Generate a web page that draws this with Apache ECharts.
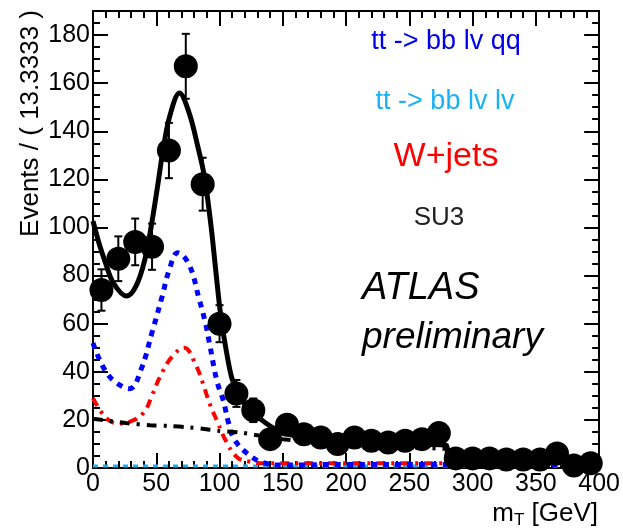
<!DOCTYPE html>
<html>
<head>
<meta charset="utf-8">
<script src="https://cdn.jsdelivr.net/npm/echarts@6/dist/echarts.min.js"></script>
<style>html,body{margin:0;padding:0;background:#fff;}#c{width:623px;height:532px;}</style>
</head>
<body>
<div id="c"></div>
<script>
// ---- data ----
const binCenters = [6.67,20,33.33,46.67,60,73.33,86.67,100,113.33,126.67,140,153.33,166.67,180,193.33,206.67,220,233.33,246.67,260,273.33,286.67,300,313.33,326.67,340,353.33,366.67,380,393.33];
const events = [74,87,94,92,132,167,118,60,31,24,12,18,14,12.7,10,12.7,11.3,10.6,11.3,12,14.5,4,4,4,3.5,3.5,3.5,6,1,2];
const errors = [8.6,9.3,9.7,9.6,11.5,13.5,11,7.7,5.6,4.9,3.5,4.2,3.7,3.6,3.2,3.6,3.4,3.3,3.4,3.5,3.8,2,2,2,1.9,1.9,1.9,2.4,1,1.4];

const totalCurve = [[0,102.6],[5,93],[9.4,86],[16,77],[26.5,71.5],[34,75.6],[41,86.7],[46,100.5],[51,117],[55,131],[60.5,146],[68.4,155.9],[76,147.6],[82.8,133.7],[88,121.3],[93.3,100.5],[97.2,81.2],[101,63.2],[106.3,45.9],[110,36.9],[115.5,30],[123.4,24.5],[132.6,20.3],[141.7,16.9],[155,14],[175,12],[200,11],[240,10],[279,9.5],[281,3.5],[320,3],[400,2.5]];
const qqCurve = [[0,52],[8,42],[17,36],[29,33],[38,41],[47,57],[55,72],[60,82],[67,89.5],[76,84.5],[84,70],[89,60],[92,52],[98,36],[103,28],[107,19],[111.6,12],[122,6],[134,2.3],[150,1.2],[200,1.5],[300,1.5],[400,1.5]];
const lvlvCurve = [[0,0.8],[100,0.8],[200,0.8],[300,0.8],[400,0.8]];
const wjetsCurve = [[0,29],[10,21],[20,18.5],[28,19],[40,23],[47,30.7],[53,38],[62,46],[72,50],[81.5,42.5],[87,35],[92,27],[98.5,19],[105,11.3],[114,4.4],[125,2.5],[133,2],[200,2],[300,2],[400,2]];
const su3Curve = [[0,20.5],[26,18.7],[45,17.8],[60,17.5],[76,16.9],[88,16.2],[98.5,15.5],[115.5,14.8],[150,12],[200,10],[250,8.5],[280,8]];

const legendTexts = ['tt -> bb lv qq','tt -> bb lv lv','W+jets','SU3'];
const yTitle = 'Events / ( 13.3333 )';

// ---- chart ----
const FONT = '"Liberation Sans", Arial, Helvetica, sans-serif';
const chart = echarts.init(document.getElementById('c'), null, {renderer:'canvas'});

function axisX(pos, interval, tickLen, showLabel, showLine){
  return {type:'value', min:0, max:400, interval:interval, position:pos, gridIndex:0,
    axisLine:{show:showLine, onZero:false, lineStyle:{color:'#000', width:2}},
    axisTick:{show:true, inside:true, length:tickLen, lineStyle:{color:'#000', width:2}},
    axisLabel:{show:showLabel, color:'#000', fontSize:25, fontFamily:FONT, margin:4},
    splitLine:{show:false}};
}
function axisY(pos, interval, tickLen, showLabel, showLine){
  return {type:'value', min:0, max:190, interval:interval, position:pos, gridIndex:0,
    axisLine:{show:showLine, onZero:false, lineStyle:{color:'#000', width:2}},
    axisTick:{show:true, inside:true, length:tickLen, lineStyle:{color:'#000', width:2}},
    axisLabel:{show:showLabel, color:'#000', fontSize:25, fontFamily:FONT, margin:3, showMaxLabel:false},
    splitLine:{show:false}};
}

const points = binCenters.map((x,i)=>[x, events[i], errors[i]]);

const option = {
  animation:false,
  backgroundColor:'#fff',
  grid:{left:93, right:21, top:11, bottom:64, containLabel:false},
  xAxis:[axisX('bottom',50,15,true,true), axisX('bottom',10,7,false,false), axisX('top',50,15,false,true), axisX('top',10,7,false,false)],
  yAxis:[axisY('left',20,15,true,true), axisY('left',5,7,false,false), axisY('right',20,15,false,true), axisY('right',5,7,false,false)],
  series:[
    {type:'line', name:legendTexts[1], data:lvlvCurve, symbol:'none', smooth:false, lineStyle:{color:'#1ab2f5', width:3, type:[5,5]}, z:2},
    {type:'line', name:legendTexts[2], data:wjetsCurve, symbol:'none', smooth:0.4, lineStyle:{color:'#ff0000', width:4, type:[9,6,3,6]}, z:3},
    {type:'line', name:legendTexts[0], data:qqCurve, symbol:'none', smooth:0.4, lineStyle:{color:'#0000ff', width:5, type:[6,6]}, z:3},
    {type:'line', name:legendTexts[3], data:su3Curve, symbol:'none', smooth:0.3, lineStyle:{color:'#000', width:4, type:[10,7,3,7]}, z:3},
    {type:'line', name:'total', data:totalCurve, symbol:'none', smooth:0.35, lineStyle:{color:'#000', width:5}, z:4},
    {type:'custom', name:'errors', data:points, z:5,
      renderItem:function(params, api){
        const x = api.value(0), y = api.value(1), e = api.value(2);
        const t = api.coord([x, y+e]), b = api.coord([x, y-e]);
        const cw = 4;
        return {type:'group', children:[
          {type:'line', shape:{x1:t[0], y1:t[1], x2:b[0], y2:b[1]}, style:{stroke:'#000', lineWidth:2}},
          {type:'line', shape:{x1:t[0]-cw, y1:t[1], x2:t[0]+cw, y2:t[1]}, style:{stroke:'#000', lineWidth:2}},
          {type:'line', shape:{x1:b[0]-cw, y1:b[1], x2:b[0]+cw, y2:b[1]}, style:{stroke:'#000', lineWidth:2}}
        ]};
      }},
    {type:'scatter', name:'data', data:points.map(p=>[p[0],p[1]]), symbol:'circle', symbolSize:24, itemStyle:{color:'#000', opacity:1}, z:6}
  ],
  graphic:[
    {type:'text', x:446, y:42, style:{text:legendTexts[0], fill:'#0000ee', font:'27px '+FONT, textAlign:'center', textVerticalAlign:'middle'}},
    {type:'text', x:445, y:102, style:{text:legendTexts[1], fill:'#1ab2f5', font:'27px '+FONT, textAlign:'center', textVerticalAlign:'middle'}},
    {type:'text', x:446, y:157, style:{text:legendTexts[2], fill:'#ff0000', font:'34px '+FONT, textAlign:'center', textVerticalAlign:'middle'}},
    {type:'text', x:439, y:218, style:{text:legendTexts[3], fill:'#222', font:'26px '+FONT, textAlign:'center', textVerticalAlign:'middle'}},
    {type:'text', x:362, y:288, style:{text:'ATLAS', fill:'#000', font:'italic 38px '+FONT, textAlign:'left', textVerticalAlign:'middle'}},
    {type:'text', x:362, y:338, style:{text:'preliminary', fill:'#000', font:'italic 37px '+FONT, textAlign:'left', textVerticalAlign:'middle'}},
    {type:'text', x:598, y:514, style:{text:'{m|m}{s|T}{m| [GeV]}', textAlign:'right', textVerticalAlign:'middle',
      rich:{m:{fontSize:26, fontFamily:FONT, fill:'#000', color:'#000'}, s:{fontSize:17, fontFamily:FONT, fill:'#000', color:'#000', padding:[12,0,0,0]}}}},
    {type:'text', x:31, y:10, rotation:Math.PI/2, style:{text:yTitle, fill:'#000', font:'26px '+FONT, textAlign:'right', textVerticalAlign:'middle'}}
  ]
};
chart.setOption(option);
</script>
</body>
</html>
